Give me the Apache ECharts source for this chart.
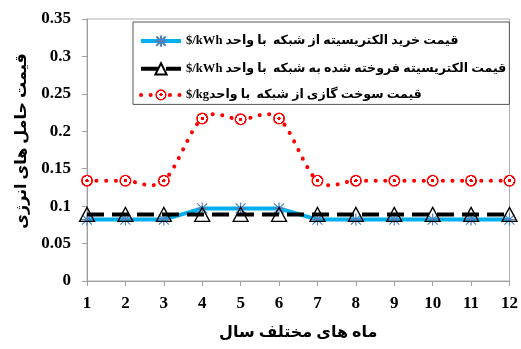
<!DOCTYPE html>
<html>
<head>
<meta charset="utf-8">
<script src="https://cdn.jsdelivr.net/npm/echarts@6/dist/echarts.min.js"></script>
<style>
html,body{margin:0;padding:0;background:#fff;}
#chart{width:521px;height:349px;}
</style>
</head>
<body>
<div id="chart" dir="rtl"></div>
<script>
var months = ['1','2','3','4','5','6','7','8','9','10','11','12'];
var buyElec = [0.082,0.082,0.082,0.097,0.097,0.097,0.082,0.082,0.082,0.082,0.082,0.082];
var sellElec = [0.089,0.089,0.089,0.089,0.089,0.089,0.089,0.089,0.089,0.089,0.089,0.089];
var gasPrice = [0.134,0.134,0.134,0.217,0.216,0.217,0.134,0.134,0.134,0.134,0.134,0.134];
var yTicks = [0,0.05,0.1,0.15,0.2,0.25,0.3,0.35];
var names = [
  'قیمت خرید الکتریسیته از شبکه  با واحد \u202A$/kWh\u202C',
  'قیمت الکتریسیته فروخته شده به شبکه  با واحد \u202A$/kWh\u202C',
  'قیمت سوخت گازی از شبکه  با واحد\u202A$/kg\u202C'
];
var xName = 'ماه های مختلف سال';
var yName = 'قیمت حامل های انرژی';

var serif = '"Liberation Serif","DejaVu Sans",serif';
var RED = '#ff0000';
var BLUE = '#00b0f0';
var redDash = [0.1, 9.5];
var blackDash = [17, 8];
var chart = echarts.init(document.getElementById('chart'), null, {renderer:'canvas'});
var ringGrad = {
  type:'radial', x:0.5, y:0.5, r:0.5,
  colorStops:[
    {offset:0,color:RED},{offset:0.28,color:RED},
    {offset:0.29,color:'#ffffff'},{offset:0.72,color:'#ffffff'},
    {offset:0.73,color:RED},{offset:1,color:RED}
  ]
};

// Smooth (Catmull-Rom style) curve through the gas price points, built with the axis scales.
function renderGasCurve(params, api) {
  if (params.dataIndexInside !== 0) return null;
  var pts = [];
  for (var i = 0; i < gasPrice.length; i++) pts.push(api.coord([i, gasPrice[i]]));
  var d = 'M' + pts[0][0] + ',' + pts[0][1];
  for (var k = 0; k < pts.length - 1; k++) {
    var p0 = pts[k > 0 ? k - 1 : k], p1 = pts[k], p2 = pts[k + 1], p3 = pts[k + 2 < pts.length ? k + 2 : k + 1];
    var c1x = p1[0] + (p2[0] - p0[0]) / 6, c1y = p1[1] + (p2[1] - p0[1]) / 6;
    var c2x = p2[0] - (p3[0] - p1[0]) / 6, c2y = p2[1] - (p3[1] - p1[1]) / 6;
    d += 'C' + c1x + ',' + c1y + ' ' + c2x + ',' + c2y + ' ' + p2[0] + ',' + p2[1];
  }
  return {
    type:'path',
    shape:{pathData:d},
    style:{stroke:RED, lineWidth:4, fill:null, lineDash:redDash, lineCap:'round'}
  };
}

chart.setOption({
  animation:false,
  backgroundColor:'#fff',
  grid:{left:87,right:9,top:19,bottom:68,show:true,borderColor:'#b0b0b0',borderWidth:1,containLabel:false},
  legend:{
    orient:'vertical', left:133, top:22,
    padding:[11,3,3,6], itemGap:13, itemWidth:40, itemHeight:14,
    backgroundColor:'#fff', borderColor:'#555', borderWidth:1,
    textStyle:{fontFamily:serif,fontWeight:'bold',fontSize:12.6,color:'#000'},
    data:[
      {name:names[0], lineStyle:{color:BLUE,width:4}},
      {name:names[1], lineStyle:{color:'#000',width:4,type:blackDash}},
      {name:names[2], lineStyle:{opacity:1,color:RED,width:4,type:redDash,cap:'round'}}
    ]
  },
  xAxis:{
    type:'category', data:months, boundaryGap:false,
    name:xName, nameLocation:'middle', nameGap:44,
    nameTextStyle:{fontFamily:serif,fontWeight:'bold',fontSize:16,color:'#000'},
    axisLine:{lineStyle:{color:'#a0a0a0',width:1}},
    axisTick:{show:true,length:5,inside:false,alignWithLabel:true,lineStyle:{color:'#a0a0a0'}},
    axisLabel:{fontFamily:serif,fontWeight:'bold',fontSize:17,color:'#000',margin:14},
    splitLine:{show:false}
  },
  yAxis:{
    type:'value', min:0, max:0.35, interval:0.05,
    name:yName, nameLocation:'middle', nameGap:57, nameRotate:90,
    nameTextStyle:{fontFamily:serif,fontWeight:'bold',fontSize:16,color:'#000',padding:[0,0,0,18]},
    axisLine:{show:true,lineStyle:{color:'#a0a0a0',width:1}},
    axisTick:{show:true,length:5,lineStyle:{color:'#a0a0a0'}},
    axisLabel:{fontFamily:serif,fontWeight:'bold',fontSize:17,color:'#000',margin:16,
      formatter:function(v){return String(Math.round(v*100)/100);}},
    splitLine:{show:false}
  },
  series:[
    {
      name:names[0], type:'line', data:buyElec,
      symbol:'path://M0,-6L0,6M-5,-5L5,5M-5,5L5,-5M-6,0L6,0', symbolSize:12,
      lineStyle:{color:BLUE,width:4},
      itemStyle:{color:'none',borderColor:'#4f81bd',borderWidth:1.2},
      z:2
    },
    {
      name:names[1], type:'line', data:sellElec,
      symbol:'triangle', symbolSize:[15,14],
      lineStyle:{color:'#000',width:4,type:blackDash},
      itemStyle:{color:'rgba(255,255,255,0)',borderColor:'#000',borderWidth:1.3},
      z:3
    },
    {
      name:names[2], type:'line', data:gasPrice,
      symbol:'circle', symbolSize:12,
      lineStyle:{color:RED,width:4,opacity:0},
      itemStyle:{color:ringGrad,borderColor:RED,borderWidth:0},
      z:5
    },
    {
      name:'gasCurve', type:'custom', data:gasPrice,
      renderItem:renderGasCurve, silent:true, z:4, clip:false
    }
  ]
});
</script>
</body>
</html>
